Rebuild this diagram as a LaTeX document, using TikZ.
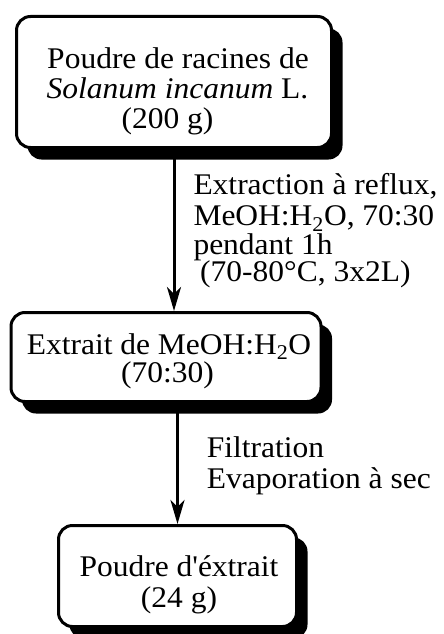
\documentclass[tikz,border=0pt]{standalone}
\usepackage{fontspec}
\setmainfont{Liberation Serif}[FakeStretch=1.05]
\newfontfamily\aposfont{Liberation Serif}[FakeStretch=1.05]
\usetikzlibrary{arrows.meta,shadows}
\tikzset{
  box/.style={draw=black, line width=3pt, fill=white, rounded corners=14pt, inner sep=0pt,
    drop shadow={shadow xshift=11pt, shadow yshift=-12pt, fill=black, opacity=1}},
  txt/.style={anchor=base, inner sep=0pt, font=\fontsize{30pt}{31pt}\selectfont},
  lbl/.style={anchor=north west, inner sep=0pt, align=left, font=\fontsize{30pt}{30pt}\selectfont},
  arr/.style={line width=3pt, -{Stealth[length=24pt, width=14pt, inset=7pt]}}
}
\begin{document}
\begin{tikzpicture}[x=1pt,y=-1pt]
\useasboundingbox (0,0) rectangle (444,634);
% boxes
\node[box, minimum width=315pt, minimum height=131pt] (b1) at (174,82) {};
\node[box, minimum width=310pt, minimum height=89pt] (b2) at (166,357) {};
\node[box, minimum width=238pt, minimum height=101pt] (b3) at (177.5,576) {};
% box texts
\node[txt] (t11) at (178,68) {Poudre de racines de};
\node[txt] (t12) at (177.5,98) {\textit{Solanum incanum} L.};
\node[txt] (t13) at (167.5,128) {(200 g)};
\node[txt] (t21) at (169,354) {Extrait de MeOH:H\textsubscript{2}O};
\node[txt] (t22) at (167.5,382) {(70:30)};
\node[txt] (t31) at (179,576) {Poudre d{\aposfont'}éxtrait};
\node[txt] (t32) at (179,607) {(24 g)};
% connectors
\draw[arr] (b1.south) -- (b1.south |- b2.north);
\draw[arr] (b2.south -| b3.north) -- (b3.north);
% labels
\node[lbl] (l1) at (193.3,172.8) {Extraction à reflux,\\[1.7pt]
  MeOH:H\textsubscript{2}O, 70:30\\[-1pt]
  pendant 1h\\[-3.5pt]
  \hspace*{6.7pt}(70-80°C, 3x2L)};
\node[lbl] (l2) at (206.7,436.2) {Filtration\\[1.6pt]
  Evaporation à sec};
\end{tikzpicture}
\end{document}
